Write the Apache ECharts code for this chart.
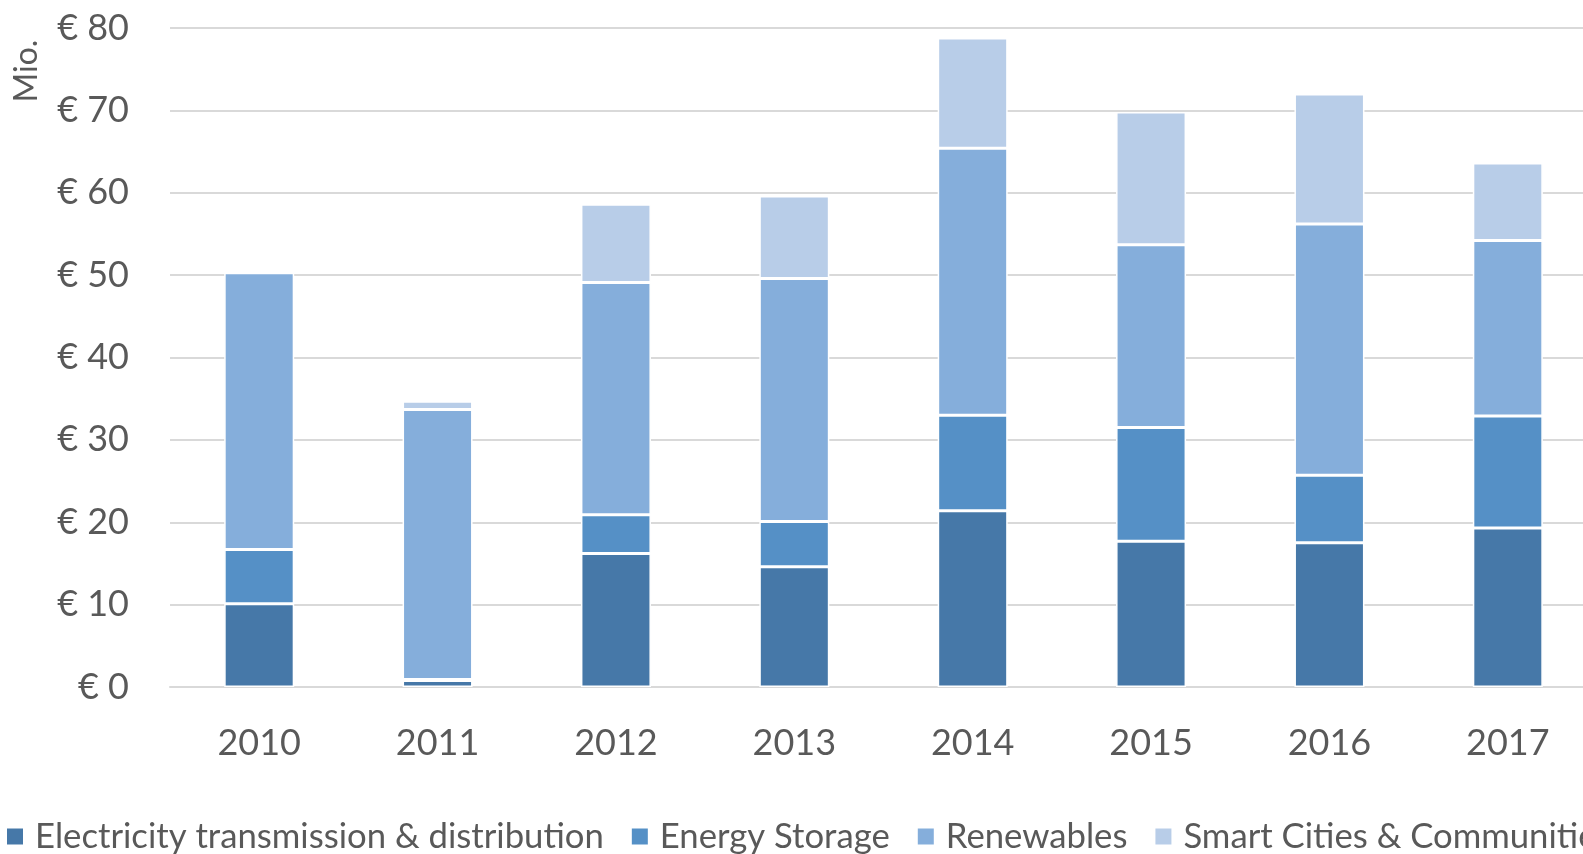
<!DOCTYPE html>
<html>
<head>
<meta charset="utf-8">
<script src="https://cdn.jsdelivr.net/npm/echarts@6/dist/echarts.min.js"></script>
<style>
  html, body { margin: 0; padding: 0; background: #fff; }
  #chart { width: 1583px; height: 854px; }
</style>
</head>
<body>
<div id="chart"></div>
<script>
// chart data (Mio. €)
const years = ['2010', '2011', '2012', '2013', '2014', '2015', '2016', '2017'];
const electricity = [10.1, 0.8, 16.2, 14.6, 21.4, 17.7, 17.5, 19.3];
const storage = [6.6, 0.1, 4.7, 5.5, 11.6, 13.8, 8.2, 13.6];
const renewables = [33.6, 32.8, 28.2, 29.5, 32.4, 22.2, 30.5, 21.3];
const smartCities = [0, 1.0, 9.5, 10.0, 13.4, 16.1, 15.8, 9.4];

const seriesNames = [
  'Electricity transmission & distribution',
  'Energy Storage',
  'Renewables',
  'Smart Cities & Communities'
];
const colors = ['#4678a8', '#5590c6', '#85aedb', '#b8cde8'];
const textColor = '#595959';
const font = 'Lato';

const chart = echarts.init(document.getElementById('chart'));

const makeSeries = (name, data, color) => ({
  name: name,
  type: 'bar',
  stack: 'total',
  data: data,
  barWidth: 70,
  itemStyle: {color: color, borderColor: '#fff', borderWidth: 1.5},
  emphasis: {disabled: true}
});

chart.setOption({
  animation: false,
  color: colors,
  // plot runs past the right edge of the picture, as in the original
  grid: {left: 170, width: 1427, top: 28, bottom: 167, containLabel: false, outerBoundsMode: 'none'},
  xAxis: {
    type: 'category',
    data: years,
    axisTick: {show: false},
    axisLine: {lineStyle: {color: '#d9d9d9', width: 2}},
    axisLabel: {color: textColor, fontFamily: font, fontSize: 36, margin: 38}
  },
  yAxis: {
    type: 'value',
    min: 0,
    max: 80,
    interval: 10,
    axisLine: {show: false},
    axisTick: {show: false},
    splitLine: {lineStyle: {color: '#d9d9d9', width: 2}},
    axisLabel: {
      color: textColor, fontFamily: font, fontSize: 36, margin: 41,
      formatter: v => '€ ' + v
    }
  },
  legend: {
    left: 5,
    top: 819,
    width: 3000,
    padding: 0,
    itemWidth: 18,
    itemHeight: 18,
    itemGap: 26,
    icon: 'rect',
    textStyle: {color: textColor, fontFamily: font, fontSize: 34.7, padding: [0, 0, 0, 6]},
    data: seriesNames
  },
  graphic: [{
    type: 'text',
    x: 27,
    y: 71,
    rotation: Math.PI / 2,
    style: {
      text: 'Mio.',
      fill: textColor,
      font: '32px Lato',
      textAlign: 'center',
      textVerticalAlign: 'middle'
    }
  }],
  series: [
    makeSeries(seriesNames[0], electricity, colors[0]),
    makeSeries(seriesNames[1], storage, colors[1]),
    makeSeries(seriesNames[2], renewables, colors[2]),
    makeSeries(seriesNames[3], smartCities, colors[3])
  ]
});
</script>
</body>
</html>
